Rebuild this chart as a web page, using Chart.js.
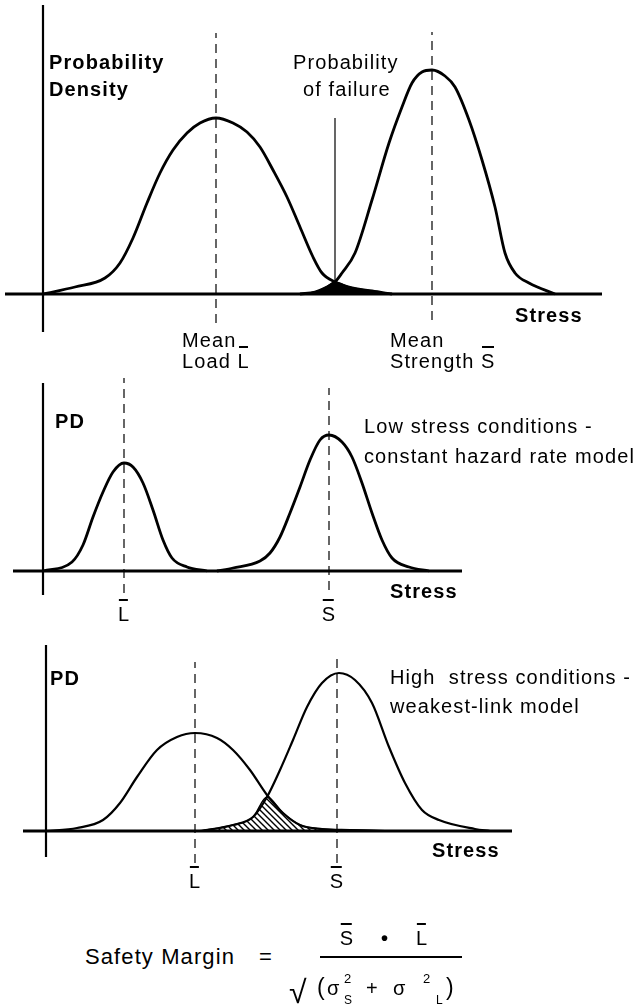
<!DOCTYPE html>
<html>
<head>
<meta charset="utf-8">
<title>Load - strength interference</title>
<script src="https://cdn.jsdelivr.net/npm/chart.js@4.4.1/dist/chart.umd.min.js"></script>
<style>
  body { margin: 0; background: #fff; }
  #page { position: relative; width: 644px; height: 1006px; overflow: hidden; background: #fff;
          font-family: "Liberation Sans", Arial, Helvetica, sans-serif; color: #000; }
  canvas { position: absolute; left: 0; }
  .t { position: absolute; font-size: 20px; line-height: 20px; letter-spacing: 1.1px; white-space: pre; }
  .b { font-weight: bold; }
  .c { transform: translateX(-50%); }
  .ob { display: inline-block; position: relative; }
  .ob::before { content: ''; position: absolute; left: 1px; right: 2px; top: -5px; border-top: 2px solid #000; }
  .bar { position: absolute; border-top: 2px solid #000; height: 0; }
</style>
</head>
<body>
<div id="page">
  <canvas id="c1" width="644" height="340" style="top:0px"></canvas>
  <canvas id="c2" width="644" height="240" style="top:370px"></canvas>
  <canvas id="c3" width="644" height="235" style="top:640px"></canvas>

  <!-- panel 1 -->
  <div class="t b" style="left:49px;top:52px">Probability</div>
  <div class="t b" style="left:49px;top:79px">Density</div>
  <div class="t" style="left:293px;top:52px">Probability</div>
  <div class="t" style="left:303px;top:79px">of failure</div>
  <div class="t" style="left:182px;top:330px">Mean</div>
  <div class="t" style="left:182px;top:351px">Load <span class="ob">L</span></div>
  <div class="t" style="left:390px;top:330px">Mean</div>
  <div class="t" style="left:390px;top:351px">Strength <span class="ob">S</span></div>
  <div class="t b" style="left:515px;top:305px">Stress</div>

  <!-- panel 2 -->
  <div class="t b" style="left:55px;top:411px">PD</div>
  <div class="t" style="left:364px;top:416px">Low stress conditions -</div>
  <div class="t" style="left:364px;top:446px">constant hazard rate model</div>
  <div class="t b" style="left:390px;top:581px">Stress</div>
  <div class="t c" style="left:124px;top:604px"><span class="ob">L</span></div>
  <div class="t c" style="left:329px;top:604px"><span class="ob">S</span></div>

  <!-- panel 3 -->
  <div class="t b" style="left:50px;top:668px">PD</div>
  <div class="t" style="left:390px;top:667px">High  stress conditions -</div>
  <div class="t" style="left:390px;top:696px">weakest-link model</div>
  <div class="t b" style="left:432px;top:840px">Stress</div>
  <div class="t c" style="left:195px;top:871px"><span class="ob">L</span></div>
  <div class="t c" style="left:337px;top:871px"><span class="ob">S</span></div>

  <!-- rumus safety margin -->
  <div class="t" style="left:85px;top:946px;font-size:22px;line-height:22px">Safety Margin</div>
  <div class="t" style="left:259px;top:946px;font-size:22px;line-height:22px">=</div>
  <div class="t c" style="left:347px;top:928px"><span class="ob">S</span></div>
  <div class="t c b" style="left:385px;top:928px">&#8226;</div>
  <div class="t c" style="left:422px;top:928px"><span class="ob">L</span></div>
  <div class="bar" style="left:320px;top:956px;width:142px"></div>
  <div class="t" style="left:289px;top:976px;font-size:32px;line-height:32px">&#8730;</div>
  <div class="t" style="left:317px;top:976px;font-size:23px;line-height:23px">(</div>
  <div class="t" style="left:327px;top:978px">&#963;</div>
  <div class="t" style="left:344px;top:972px;font-size:13px;line-height:13px">2</div>
  <div class="t" style="left:344px;top:994px;font-size:12px;line-height:12px">S</div>
  <div class="t" style="left:366px;top:978px">+</div>
  <div class="t" style="left:393px;top:978px">&#963;</div>
  <div class="t" style="left:423px;top:972px;font-size:13px;line-height:13px">2</div>
  <div class="t" style="left:436px;top:994px;font-size:12px;line-height:12px">L</div>
  <div class="t" style="left:446px;top:976px;font-size:23px;line-height:23px">)</div>
</div>

<script>
// --- DATA PANEL 1: beban & kekuatan bertumpuk (stress, probability density) ---
var load1X = [0, 8, 15.5, 19.25, 22.5, 26, 29.25, 32.5, 36, 39.25, 43.25, 47.5, 51, 54.25, 57.5, 61, 64.25, 67.5, 69.75, 73, 76.5, 82.25, 87.25];
var load1Y = [0, 3.5, 8, 15.5, 28, 45.5, 60.5, 72, 80.5, 85.5, 88, 85.5, 81, 73.5, 62, 48.5, 33.5, 18.5, 10.5, 6, 3.5, 1.5, 0];
var strength1X = [64.25, 68, 70.5, 73, 74.75, 78, 82.25, 86.5, 89.75, 92.25, 94.75, 97.25, 100.5, 103, 106.5, 109.75, 113, 115.5, 118, 121.5, 128];
var strength1Y = [0, 1, 3, 6, 10.5, 20.5, 47, 75.5, 93.5, 105.5, 111, 112, 109, 103.5, 87, 67, 43.5, 20.5, 10.5, 5.5, 0];
var failure1X = [64.25, 68, 70.5, 73, 76.5, 82.25, 87.25];
var failure1Y = [0, 1, 3, 6, 3.5, 1.5, 0];
var means1 = [43.25, 97.25];

// --- DATA PANEL 2: low stress ---
var load2X = [0, 7.25, 10, 12.5, 15, 17.5, 20.25, 22.5, 25, 27.5, 30, 32.25, 36, 41];
var load2Y = [0, 4.5, 13, 27, 39.5, 49.5, 54, 52, 44, 30.5, 15.5, 6.5, 2, 0];
var strength2X = [43.5, 47.5, 54.25, 56.75, 59.25, 61.75, 64.25, 66.75, 69.25, 71.5, 74.75, 77.25, 79.75, 82.25, 84.75, 87.25, 91.5, 96.5];
var strength2Y = [0, 1.5, 5, 9, 17, 29, 42, 55.5, 65.5, 68, 64.5, 57, 44, 29, 15.5, 6.5, 2, 0];
var means2 = [20.25, 71.5];

// --- DATA PANEL 3: high stress ---
var load3X = [0, 7.75, 14.25, 18.5, 22.75, 27.75, 32.75, 37.25, 42.75, 46.75, 51, 55.25, 59.25, 63.5, 69, 76, 84.75];
var load3Y = [0, 1.5, 5.5, 14, 27, 40.5, 47, 49, 46.5, 40.5, 30.5, 18, 9, 3, 1, 0.5, 0];
var strength3X = [38.5, 46.75, 51.75, 55.25, 58.5, 61.75, 65.25, 69, 73.25, 77.25, 81.5, 85.75, 89.75, 94, 98.25, 107.25, 111];
var strength3Y = [0, 3, 7, 17, 30.5, 45.5, 62, 74, 79, 75.5, 64, 42, 24, 10.5, 5.5, 1, 0];
var overlap3X = [38.5, 46.75, 51.75, 55.25, 59.25, 63.5, 69, 76, 84.75];
var overlap3Y = [0, 3, 7, 17, 9, 3, 1, 0.5, 0];
var means3 = [37.25, 72.75];

// --- PANJANG SUMBU & GARIS BANTU (dalam satuan data) ---
var guide1 = { xAxis: [-9.5, 139.75], yAxis: [-19, 144.5], dashLoad: [-14.5, 130.5], dashStrength: [-13, 131], pointer: [6, 88] };
var guide2 = { xAxis: [-7.5, 104.75], yAxis: [-12, 94], dashLoad: [-11, 96.5], dashStrength: [-9.5, 91.5] };
var guide3 = { xAxis: [-5.75, 116.5], yAxis: [-13, 93], dashLoad: [-16, 84.5], dashStrength: [-16, 87] };

var INK = '#000';

function titik(xs, ys) {
    return xs.map(function(x, i) { return { x: x, y: ys[i] }; });
}

function kurva(xs, ys, lebar) {
    return { data: titik(xs, ys), borderColor: INK, borderWidth: lebar, pointRadius: 0,
             fill: false, cubicInterpolationMode: 'monotone' };
}

function garis(a, b, lebar, dash) {
    return { data: [a, b], borderColor: INK, borderWidth: lebar, borderDash: dash || [],
             pointRadius: 0, fill: false, tension: 0 };
}

function daerah(xs, ys, isi) {
    return { data: titik(xs, ys), borderColor: INK, borderWidth: 1.5, pointRadius: 0,
             fill: 'origin', backgroundColor: isi, cubicInterpolationMode: 'monotone' };
}

// sumbu x, sumbu y, dan dua garis putus-putus rata-rata
function sumbuDanGaris(g, means) {
    var dash = [9, 6];
    return [
        garis({ x: g.xAxis[0], y: 0 }, { x: g.xAxis[1], y: 0 }, 3),
        garis({ x: 0, y: g.yAxis[0] }, { x: 0, y: g.yAxis[1] }, 2.2),
        garis({ x: means[0], y: g.dashLoad[0] }, { x: means[0], y: g.dashLoad[1] }, 1.2, dash),
        garis({ x: means[1], y: g.dashStrength[0] }, { x: means[1], y: g.dashStrength[1] }, 1.2, dash)
    ];
}

// --- POLA ARSIRAN DIAGONAL ---
function polaArsir() {
    var c = document.createElement('canvas');
    c.width = 6; c.height = 6;
    var g = c.getContext('2d');
    g.strokeStyle = INK;
    g.lineWidth = 1.4;
    g.beginPath();
    g.moveTo(-1, -1); g.lineTo(7, 7);
    g.moveTo(-1, 5); g.lineTo(1, 7);
    g.moveTo(5, -1); g.lineTo(7, 1);
    g.stroke();
    return g.createPattern(c, 'repeat');
}

// --- BUAT SATU PANEL ---
// originX/originY: posisi titik (0,0) di halaman, 4 px per satuan stress, 2 px per satuan PD
function buatPanel(id, originX, originY, top, tinggi, datasets) {
    var ctx = document.getElementById(id).getContext('2d');
    return new Chart(ctx, {
        type: 'line',
        data: { datasets: datasets },
        options: {
            responsive: false,
            animation: false,
            events: [],
            layout: { padding: 0 },
            plugins: { legend: { display: false }, tooltip: { enabled: false } },
            scales: {
                x: { type: 'linear', display: false, min: -originX / 4, max: (644 - originX) / 4 },
                y: { type: 'linear', display: false, min: (originY - top - tinggi) / 2, max: (originY - top) / 2 }
            }
        }
    });
}

var set1 = sumbuDanGaris(guide1, means1);
set1.push(garis({ x: failure1X[3], y: guide1.pointer[0] }, { x: failure1X[3], y: guide1.pointer[1] }, 1.2));
set1.push(daerah(failure1X, failure1Y, INK));
set1.push(kurva(load1X, load1Y, 2.8));
set1.push(kurva(strength1X, strength1Y, 2.8));
buatPanel('c1', 43, 294, 0, 340, set1);

var set2 = sumbuDanGaris(guide2, means2);
set2.push(kurva(load2X, load2Y, 2.8));
set2.push(kurva(strength2X, strength2Y, 2.8));
buatPanel('c2', 43, 571, 370, 240, set2);

var set3 = sumbuDanGaris(guide3, means3);
set3.push(daerah(overlap3X, overlap3Y, polaArsir()));
set3.push(kurva(load3X, load3Y, 2.2));
set3.push(kurva(strength3X, strength3Y, 2.2));
buatPanel('c3', 46, 831, 640, 235, set3);
</script>
</body>
</html>
